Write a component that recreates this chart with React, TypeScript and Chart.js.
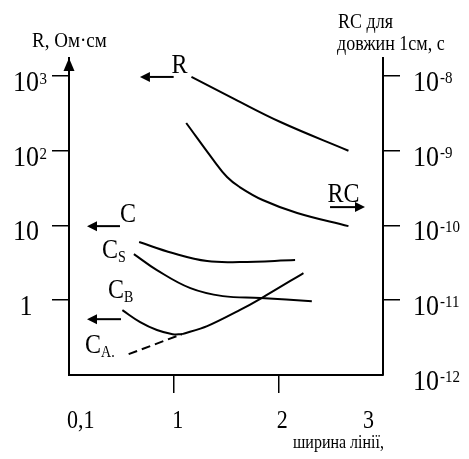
import { useEffect, useRef } from "react";
import { Chart, registerables } from "chart.js";

Chart.register(...registerables);

// ---- axis ticks ----
const xTickValues = [0, 1, 2, 3];
const xTickLabels = ["0,1", "1", "2", "3"];
const xMarkedTicks = [1, 2];
const leftTickValues = [1, 10, 100, 1000];
const leftTickBase = ["1", "10", "10", "10"];
const leftTickExp = ["", "", "2", "3"];
const rightTickValues = [1e-12, 1e-11, 1e-10, 1e-9, 1e-8];
const rightTickBase = ["10", "10", "10", "10", "10"];
const rightTickExp = ["-12", "-11", "-10", "-9", "-8"];
const rightMarkedTicks = [1e-11, 1e-10, 1e-9, 1e-8];

// ---- series (x = line width, y = value) ----
const rX = [1.17, 1.54, 2.02, 2.67];
const rY = [970, 525, 242, 100];

const rcX = [1.12, 1.38, 1.51, 1.63, 1.85, 2.18, 2.67];
const rcY = [2.35e-9, 7.5e-10, 4.45e-10, 3.27e-10, 2.19e-10, 1.47e-10, 9.8e-11];

const cX = [0.67, 0.99, 1.32, 1.63, 2.16];
const cY = [6.0, 4.28, 3.34, 3.24, 3.44];

const csX = [0.62, 0.84, 1.16, 1.47, 1.83, 2.32];
const csY = [4.14, 2.53, 1.45, 1.135, 1.07, 0.97];

const cbX = [0.51, 0.68, 0.84, 0.99, 1.08];
const cbY = [0.736, 0.51, 0.4, 0.352, 0.352];

const caDashX = [0.57, 1.08];
const caDashY = [0.19, 0.352];

const caX = [1.08, 1.32, 1.63, 1.84, 2.24];
const caY = [0.352, 0.45, 0.736, 1.07, 2.31];

// ---- annotations (data units, left axis) ----
const labelTexts = ["R", "RC", "C", "C", "C", "C"];
const labelSubs = ["", "", "", "S", "B", "A."];
const labelX = [0.98, 2.47, 0.487, 0.315, 0.373, 0.153];
const labelY = [1096, 20.6, 11.1, 3.66, 1.07, 0.196];

const arrowFromX = [1.0, 2.494, 0.487, 0.497];
const arrowToX = [0.678, 2.828, 0.172, 0.172];
const arrowY = [970, 17.6, 9.8, 0.558];

const FONT = '"Liberation Serif", "Times New Roman", serif';

function pts(xs: number[], ys: number[]) {
  return xs.map((x, i) => ({ x, y: ys[i] }));
}

function drawText(
  ctx: CanvasRenderingContext2D,
  text: string,
  x: number,
  y: number,
  size: number,
  align: CanvasTextAlign = "left",
  stretch = 1.12
) {
  ctx.save();
  ctx.font = `${size}px ${FONT}`;
  ctx.textAlign = align;
  ctx.textBaseline = "alphabetic";
  ctx.fillStyle = "#000";
  ctx.translate(x, y);
  ctx.scale(1, stretch);
  ctx.fillText(text, 0, 0);
  const w = ctx.measureText(text).width;
  ctx.restore();
  return w;
}

function drawArrow(ctx: CanvasRenderingContext2D, x1: number, y1: number, x2: number, y2: number) {
  const dir = Math.sign(x2 - x1);
  const head = 10;
  ctx.save();
  ctx.strokeStyle = "#000";
  ctx.fillStyle = "#000";
  ctx.lineWidth = 2;
  ctx.beginPath();
  ctx.moveTo(x1, y1);
  ctx.lineTo(x2 - dir * head, y2);
  ctx.stroke();
  ctx.beginPath();
  ctx.moveTo(x2, y2);
  ctx.lineTo(x2 - dir * head, y2 - 5);
  ctx.lineTo(x2 - dir * head, y2 + 5);
  ctx.closePath();
  ctx.fill();
  ctx.restore();
}

const overlayPlugin = {
  id: "overlay",
  afterDraw(chart: any) {
    const ctx: CanvasRenderingContext2D = chart.ctx;
    const xs = chart.scales.x;
    const ys = chart.scales.y;
    const y2 = chart.scales.y2;
    const area = chart.chartArea;

    // arrow head on left axis
    ctx.save();
    ctx.fillStyle = "#000";
    ctx.beginPath();
    ctx.moveTo(area.left, area.top);
    ctx.lineTo(area.left - 5.5, area.top + 13);
    ctx.lineTo(area.left + 5.5, area.top + 13);
    ctx.closePath();
    ctx.fill();
    ctx.restore();

    // left tick labels
    leftTickValues.forEach((v, i) => {
      const py = ys.getPixelForValue(v);
      const base = leftTickBase[i];
      drawText(ctx, base, 26, py + 15, 26, "center");
      if (leftTickExp[i]) {
        ctx.save();
        ctx.font = `26px ${FONT}`;
        const w = ctx.measureText(base).width;
        ctx.restore();
        drawText(ctx, leftTickExp[i], 26 + w / 2 + 0.5, py + 8, 15, "left");
      }
    });

    // right tick labels
    rightTickValues.forEach((v, i) => {
      const py = y2.getPixelForValue(v);
      const w = drawText(ctx, rightTickBase[i], 413, py + 15, 26, "left");
      drawText(ctx, rightTickExp[i], 413 + w + 1, py + 7, 15, "left");
    });

    // x tick labels
    xTickValues.forEach((v, i) => {
      const px = xs.getPixelForValue(v);
      const last = xTickValues.length - 1;
      if (i === 0) drawText(ctx, xTickLabels[i], px - 2, 428, 22, "left", 1.1);
      else if (i === last) drawText(ctx, xTickLabels[i], px - 9, 428, 22, "right", 1.1);
      else drawText(ctx, xTickLabels[i], px + 4, 428, 22, "center", 1.1);
    });

    // axis titles
    drawText(ctx, "R, Ом·см", 32, 47, 19);
    drawText(ctx, "RC для", 338, 28, 18);
    drawText(ctx, "довжин 1см, с", 337, 50, 18);
    drawText(ctx, "ширина лінії,", 293, 448, 16, "left", 1.2);

    // curve labels
    labelTexts.forEach((t, i) => {
      const px = xs.getPixelForValue(labelX[i]);
      const py = ys.getPixelForValue(labelY[i]);
      const w = drawText(ctx, t, px, py, 24);
      if (labelSubs[i]) drawText(ctx, labelSubs[i], px + w, py + 4, 14);
    });

    // arrows
    arrowFromX.forEach((x1, i) => {
      const py = ys.getPixelForValue(arrowY[i]);
      drawArrow(ctx, xs.getPixelForValue(x1), py, xs.getPixelForValue(arrowToX[i]), py);
    });
  },
};

export default function App() {
  const ref = useRef<HTMLCanvasElement | null>(null);

  useEffect(() => {
    document.body.style.margin = "0";
    const canvas = ref.current;
    if (!canvas) return;

    const lineStyle = {
      borderColor: "#000",
      borderWidth: 2,
      pointRadius: 0,
      fill: false,
    };

    const chart = new Chart(canvas, {
      type: "line",
      data: {
        datasets: [
          { ...lineStyle, label: "R", data: pts(rX, rY), yAxisID: "y", tension: 0.4 },
          { ...lineStyle, label: "RC", data: pts(rcX, rcY), yAxisID: "y2", tension: 0.4 },
          { ...lineStyle, label: "C", data: pts(cX, cY), yAxisID: "y", tension: 0.4 },
          { ...lineStyle, label: "CS", data: pts(csX, csY), yAxisID: "y", tension: 0.4 },
          { ...lineStyle, label: "CB", data: pts(cbX, cbY), yAxisID: "y", tension: 0.4 },
          { ...lineStyle, label: "CA dashed", data: pts(caDashX, caDashY), yAxisID: "y", borderDash: [9, 5], tension: 0 },
          { ...lineStyle, label: "CA", data: pts(caX, caY), yAxisID: "y", tension: 0.3 },
        ],
      },
      plugins: [overlayPlugin],
      options: {
        animation: false,
        responsive: false,
        events: [],
        layout: { padding: { top: 58, left: 0, right: 0, bottom: 0 } },
        plugins: { legend: { display: false }, tooltip: { enabled: false }, title: { display: false } },
        scales: {
          x: {
            type: "linear",
            min: 0,
            max: 3,
            afterBuildTicks: (s: any) => {
              s.ticks = xTickValues.map((value) => ({ value }));
            },
            afterFit: (s: any) => {
              s.height = 84;
            },
            ticks: { display: false },
            grid: {
              display: true,
              drawOnChartArea: false,
              drawTicks: true,
              tickLength: 18,
              lineWidth: 1.5,
              tickColor: (c: any) =>
                c.tick && xMarkedTicks.includes(c.tick.value) ? "#000" : "rgba(0,0,0,0)",
            },
            border: { display: true, color: "#000", width: 2 },
          },
          y: {
            type: "logarithmic",
            position: "left",
            min: 0.1,
            max: 1738,
            afterBuildTicks: (s: any) => {
              s.ticks = leftTickValues.map((value) => ({ value }));
            },
            afterFit: (s: any) => {
              s.width = 69;
            },
            ticks: { display: false },
            grid: {
              display: true,
              drawOnChartArea: false,
              drawTicks: true,
              tickLength: 17,
              lineWidth: 1.5,
              tickColor: "#000",
            },
            border: { display: true, color: "#000", width: 2 },
          },
          y2: {
            type: "logarithmic",
            position: "right",
            min: 1e-12,
            max: 1.738e-8,
            afterBuildTicks: (s: any) => {
              s.ticks = rightTickValues.map((value) => ({ value }));
            },
            afterFit: (s: any) => {
              s.width = 86;
            },
            ticks: { display: false },
            grid: {
              display: true,
              drawOnChartArea: false,
              drawTicks: true,
              tickLength: 17,
              lineWidth: 1.5,
              tickColor: (c: any) =>
                c.tick && rightMarkedTicks.some((v) => Math.abs(v - c.tick.value) < v * 1e-6)
                  ? "#000"
                  : "rgba(0,0,0,0)",
            },
            border: { display: true, color: "#000", width: 2 },
          },
        },
      } as any,
    });

    return () => chart.destroy();
  }, []);

  return (
    <div style={{ width: 469, height: 459, background: "#fff" }}>
      <canvas ref={ref} width={469} height={459} style={{ display: "block" }} />
    </div>
  );
}
